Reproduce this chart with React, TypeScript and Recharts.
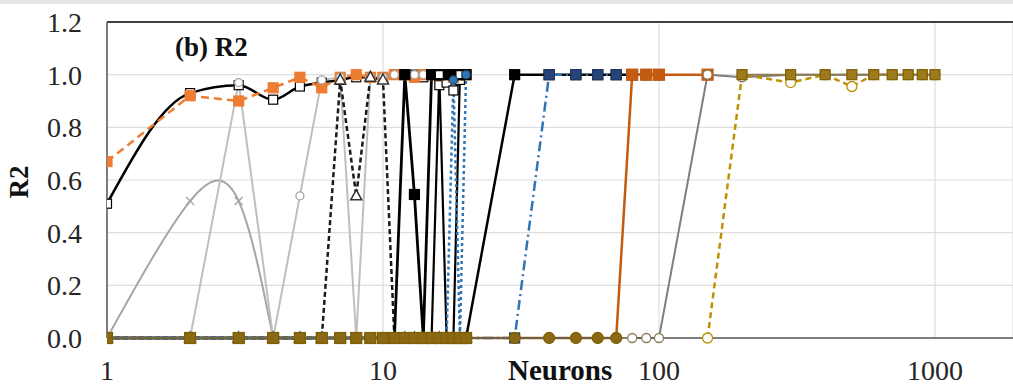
import { LineChart, Line, XAxis, YAxis, CartesianGrid, ReferenceLine } from 'recharts';

// neuron counts used by the two groups of runs
const neuronsSmall = [1, 2, 3, 4, 5, 6, 7, 8, 9, 10, 11, 12, 13, 14, 15, 16, 17, 18, 19, 20];
const neuronsWide = [10, 20, 30, 40, 50, 60, 70, 80, 90, 100, 150, 200, 300, 400, 500, 600, 700, 800, 900, 1000];

const xTicks = [1, 10, 100, 1000];
const yTicks = [0, 0.2, 0.4, 0.6, 0.8, 1.0, 1.2];

// R2 values, small network runs (1..20 neurons)
const orangeDashed = [0.67, 0.92, 0.9, 0.95, 0.99, 0.95, 0.99, 1.0, 0.99, 0.99, 1.0, 1.0, 0.99, 1.0, 1.0, 1.0, 1.0, 0.99, 1.0, 1.0];
const blackSmooth = [0.51, 0.93, 0.96, 0.905, 0.955, 0.97, 0.98, 0.99, 0.99, 0.99, 1.0, 1.0, 1.0, 0.99, 1.0, 0.96, 0.97, 0.94, 0.98, 1.0];
const grayCross = [0, 0.52, 0.52, 0, null, null, null, null, null, null, null, null, null, null, null, null, null, null, null, null];
const lightGrayCircle = [0, 0, 0.97, 0, 0.54, 0.98, 0.99, 0, 0.99, 0.99, 1.0, 1.0, 1.0, 1.0, 1.0, 1.0, 1.0, 1.0, 1.0, 1.0];
const blackDashTri = [0, 0, 0, 0, 0, 0, 0.98, 0.54, 0.99, 0.98, 0, 0, 0, 0, 0, 0, 0, 0, 0, 0];
const blackSolidSq = [0, 0, 0, 0, 0, 0, 0, 0, 0, 0, 0, 1.0, 0.545, 0, 1.0, 1.0, 1.0, 1.0, 1.0, 1.0];
const blackSolidThin = [0, 0, 0, 0, 0, 0, 0, 0, 0, 0, 0, 0, 0, 0, 0, 1.0, 0, 0, 1.0, 1.0];
const blueDotted = [0, 0, 0, 0, 0, 0, 0, 0, 0, 0, 0, 0, 0, 0, 0, 0, 0, 0.98, 0, 1.0];
const oliveSqSmall = [0, 0, 0, 0, 0, 0, 0, 0, 0, 0, 0, 0, 0, 0, 0, 0, 0, 0, 0, 0];

// R2 values, wide runs (10..1000 neurons)
const blackSqWide = [0, 0, 1.0, 1.0, 1.0, 1.0, 1.0, 1.0, 1.0, 1.0, null, null, null, null, null, null, null, null, null, null];
const blueDashDot = [0, 0, 0, 1.0, 1.0, 1.0, 1.0, 1.0, 1.0, 1.0, null, null, null, null, null, null, null, null, null, null];
const orangeBrown = [0, 0, 0, 0, 0, 0, 0, 1.0, 1.0, 1.0, 1.0, null, null, null, null, null, null, null, null, null];
const grayOpen = [null, null, null, null, null, null, null, 0, 0, 0, 1.0, 0.99, 1.0, 1.0, 1.0, 1.0, 1.0, 1.0, 1.0, 1.0];
const oliveDashed = [null, null, null, null, null, null, null, null, null, null, 0, 1.0, 0.97, 1.0, 0.955, 1.0, 1.0, 1.0, 1.0, 1.0];
const oliveCircle = [0, 0, 0, 0, 0, 0, 0, null, null, null, null, null, null, null, null, null, null, null, null, null];
const oliveSqWide = [null, null, null, null, null, null, null, null, null, null, null, 1.0, 1.0, 1.0, 1.0, 1.0, 1.0, 1.0, 1.0, 1.0];

const pts = (xs: number[], ys: (number | null)[]) => xs.map((x, i) => ({ x, y: ys[i] }));

type DotProps = { cx?: number; cy?: number; index?: number; payload?: { y: number | null } };

const skip = (p: DotProps, skipZero?: boolean) =>
  p.cx == null || p.cy == null || p.payload?.y == null || (skipZero && p.payload.y === 0);

const square = (fill: string, stroke: string, size: number, skipZero?: boolean) => (p: DotProps) =>
  skip(p, skipZero) ? (
    <g key={p.index} />
  ) : (
    <rect key={p.index} x={p.cx! - size / 2} y={p.cy! - size / 2} width={size} height={size} fill={fill} stroke={stroke} strokeWidth={1.2} />
  );

const circle = (fill: string, stroke: string, r: number) => (p: DotProps) =>
  skip(p) ? <g key={p.index} /> : <circle key={p.index} cx={p.cx} cy={p.cy} r={r} fill={fill} stroke={stroke} strokeWidth={1.3} />;

const triangle = (stroke: string) => (p: DotProps) =>
  skip(p) ? (
    <g key={p.index} />
  ) : (
    <polygon
      key={p.index}
      points={`${p.cx},${p.cy! - 6} ${p.cx! - 5.5},${p.cy! + 4} ${p.cx! + 5.5},${p.cy! + 4}`}
      fill="#fff"
      stroke={stroke}
      strokeWidth={1.5}
    />
  );

const cross = (stroke: string) => (p: DotProps) =>
  skip(p) ? (
    <g key={p.index} />
  ) : (
    <g key={p.index} stroke={stroke} strokeWidth={1.3}>
      <line x1={p.cx! - 4} y1={p.cy! - 4} x2={p.cx! + 4} y2={p.cy! + 4} />
      <line x1={p.cx! - 4} y1={p.cy! + 4} x2={p.cx! + 4} y2={p.cy! - 4} />
    </g>
  );

const tickFont = { fontFamily: 'Liberation Serif, serif', fontSize: 28, fill: '#262626' };

export default function App() {
  return (
    <div style={{ position: 'absolute', left: 0, top: 0, width: 1013, height: 390, background: '#fff' }}>
      <LineChart width={1013} height={390} margin={{ top: 22, right: 0, bottom: 0, left: 0 }}>
        <CartesianGrid stroke="#dedede" strokeWidth={1.2} />
        <XAxis
          dataKey="x"
          type="number"
          scale="log"
          domain={[1, 1918]}
          allowDataOverflow
          ticks={xTicks}
          interval={0}
          height={52}
          tickLine={false}
          tickSize={0}
          tickMargin={22}
          axisLine={{ stroke: '#595959', strokeWidth: 1.5 }}
          tick={tickFont}
        />
        <YAxis
          type="number"
          domain={[0, 1.2]}
          ticks={yTicks}
          interval={0}
          width={107}
          tickLine={false}
          tickSize={0}
          tickMargin={25}
          axisLine={{ stroke: '#595959', strokeWidth: 1.5 }}
          tick={tickFont}
          tickFormatter={(v: number) => v.toFixed(1)}
        />
        <ReferenceLine y={1.2} stroke="#404040" strokeWidth={2} />

        <Line data={pts(neuronsSmall, blackSmooth)} dataKey="y" type="monotone" stroke="#000" strokeWidth={2.5} dot={square('#fff', '#000', 9)} activeDot={false} isAnimationActive={false} />
        <Line data={pts(neuronsSmall, orangeDashed)} dataKey="y" stroke="#ED7D31" strokeWidth={2.5} strokeDasharray="8 5" dot={square('#ED7D31', '#ED7D31', 10)} activeDot={false} isAnimationActive={false} />
        <Line data={pts(neuronsSmall, grayCross)} dataKey="y" type="natural" stroke="#A5A5A5" strokeWidth={2} dot={cross('#A5A5A5')} activeDot={false} isAnimationActive={false} />
        <Line data={pts(neuronsSmall, lightGrayCircle)} dataKey="y" stroke="#BFBFBF" strokeWidth={2} dot={circle('#fff', '#A6A6A6', 4)} activeDot={false} isAnimationActive={false} />
        <Line data={pts(neuronsSmall, blackDashTri)} dataKey="y" stroke="#1a1a1a" strokeWidth={2.5} strokeDasharray="5 3" dot={triangle('#333')} activeDot={false} isAnimationActive={false} />
        <Line data={pts(neuronsSmall, blackSolidSq)} dataKey="y" stroke="#000" strokeWidth={2.8} dot={square('#000', '#000', 10)} activeDot={false} isAnimationActive={false} />
        <Line data={pts(neuronsSmall, blackSolidThin)} dataKey="y" stroke="#000" strokeWidth={2.2} dot={square('#fff', '#000', 8)} activeDot={false} isAnimationActive={false} />
        <Line data={pts(neuronsSmall, blueDotted)} dataKey="y" stroke="#2E75B6" strokeWidth={2.5} strokeDasharray="3 3" dot={circle('#2E75B6', '#1F4E79', 4)} activeDot={false} isAnimationActive={false} />

        <Line data={pts(neuronsWide, blackSqWide)} dataKey="y" stroke="#000" strokeWidth={2.5} dot={square('#000', '#000', 10)} activeDot={false} isAnimationActive={false} />
        <Line data={pts(neuronsWide, blueDashDot)} dataKey="y" stroke="#2E75B6" strokeWidth={2.5} strokeDasharray="10 4 2 4" dot={square('#264478', '#1F3864', 10)} activeDot={false} isAnimationActive={false} />
        <Line data={pts(neuronsWide, orangeBrown)} dataKey="y" stroke="#C55A11" strokeWidth={2.5} dot={square('#C55A11', '#C55A11', 11, true)} activeDot={false} isAnimationActive={false} />
        <Line data={pts(neuronsWide, grayOpen)} dataKey="y" stroke="#7F7F7F" strokeWidth={2} dot={circle('#fff', '#8C7B55', 4.5)} activeDot={false} isAnimationActive={false} />
        <Line data={pts(neuronsWide, oliveDashed)} dataKey="y" stroke="#BF9000" strokeWidth={2.5} strokeDasharray="6 4" dot={circle('#fff', '#BF9000', 5)} activeDot={false} isAnimationActive={false} />
        <Line data={pts(neuronsWide, oliveCircle)} dataKey="y" stroke="#9C7A1D" strokeWidth={2} dot={circle('#8B6914', '#7F6000', 5.5)} activeDot={false} isAnimationActive={false} />
        <Line data={pts(neuronsWide, oliveSqWide)} dataKey="y" stroke="#8C7B55" strokeWidth={2} dot={square('#9C7A1D', '#7F6000', 10)} activeDot={false} isAnimationActive={false} />
        <Line data={pts(neuronsSmall, oliveSqSmall)} dataKey="y" stroke="#BF9000" strokeWidth={2} dot={square('#8B6914', '#7F6000', 11)} activeDot={false} isAnimationActive={false} />
      </LineChart>
      <svg width={1013} height={390} style={{ position: 'absolute', left: 0, top: 0, pointerEvents: 'none' }}>
        <rect x={0} y={0} width={1013} height={4} fill="#e6e6e6" />
        <text x={175} y={56} fontFamily="Liberation Serif, serif" fontWeight="bold" fontSize={27} fill="#111">
          (b) R2
        </text>
        <text transform="translate(28,182) rotate(-90)" textAnchor="middle" fontFamily="Liberation Serif, serif" fontWeight="bold" fontSize={27} fill="#111">
          R2
        </text>
        <text x={508} y={380} fontFamily="Liberation Serif, serif" fontWeight="bold" fontSize={29} fill="#111">
          Neurons
        </text>
      </svg>
    </div>
  );
}
